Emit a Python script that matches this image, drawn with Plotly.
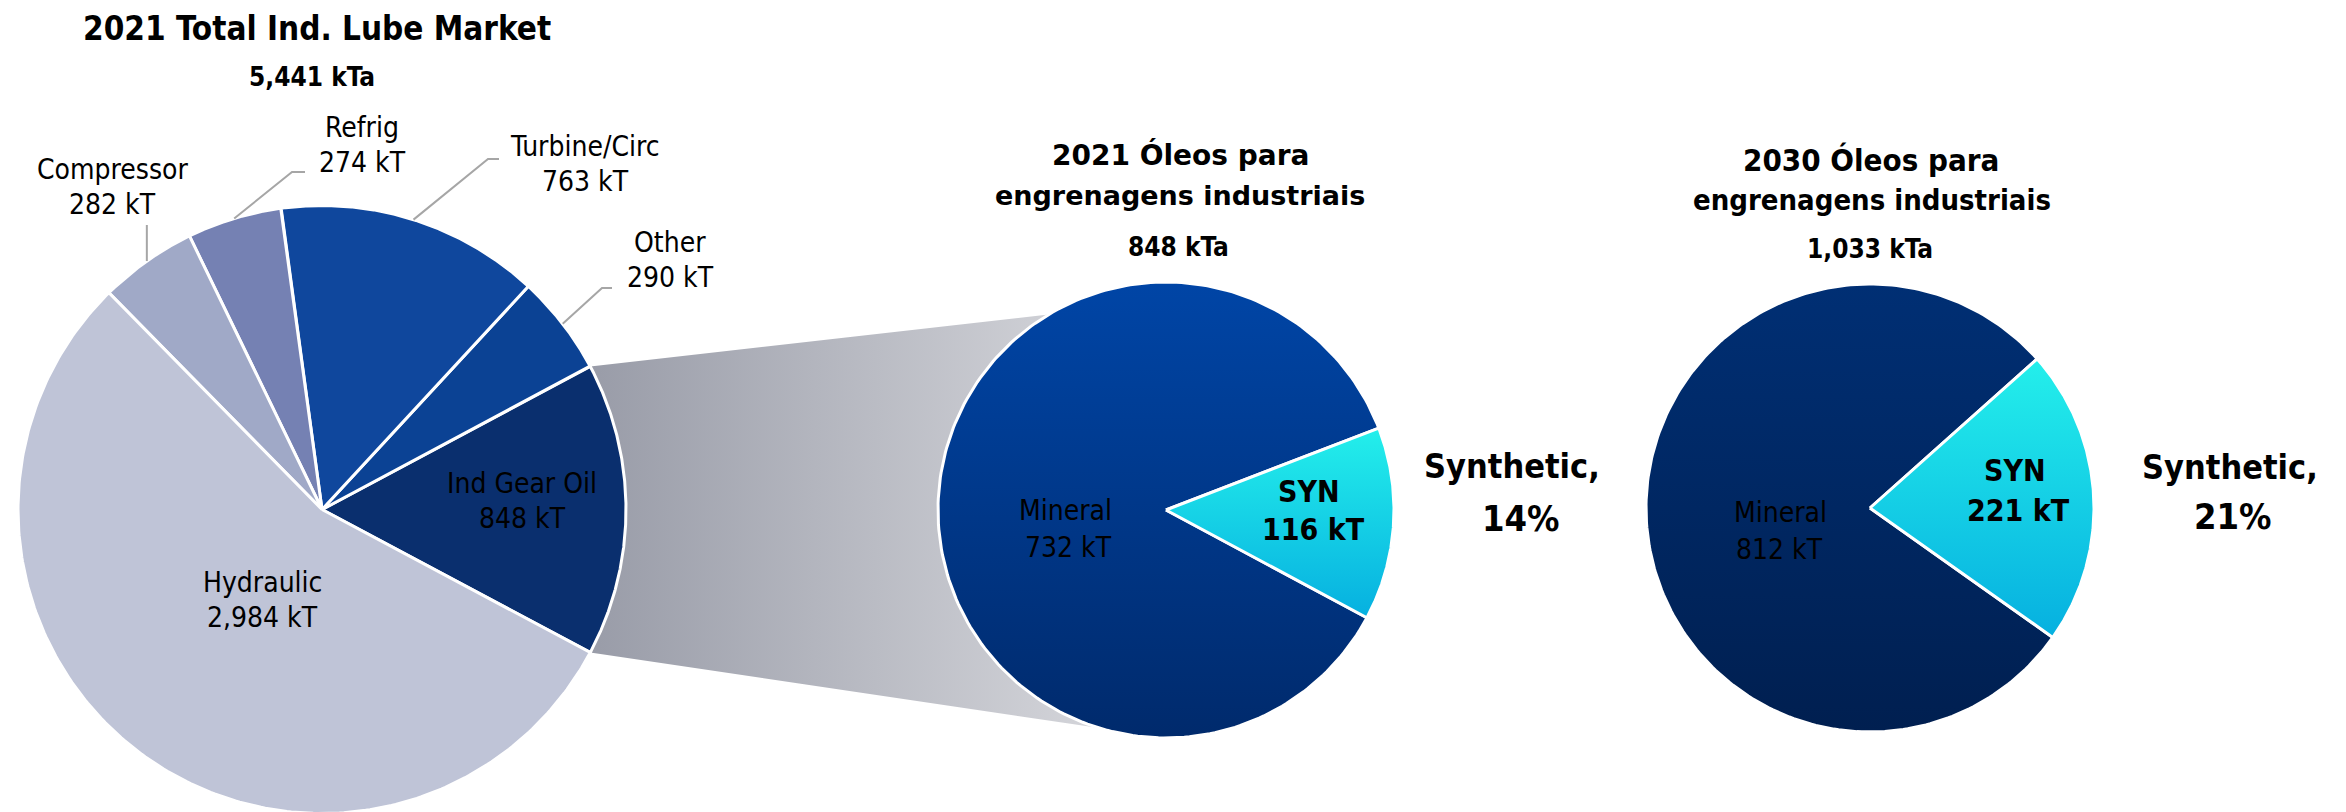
import numpy as np
import plotly.graph_objects as go

# ---------------- data ----------------
market_labels = ["Ind Gear Oil", "Other", "Turbine/Circ", "Refrig", "Compressor", "Hydraulic"]
market_values = [848, 290, 763, 274, 282, 2984]          # kT, 2021

gear_labels = ["SYN", "Mineral"]
gear_2021_values = [116, 732]                              # kT, 2021
gear_2030_values = [221, 812]                              # kT, 2030

# ---------------- styling ----------------
market_colors = ["#0A2F6E", "#0B4294", "#0F479D", "#7581B3", "#A0A9C7", "#BFC4D7"]
# vertical gradients: first stop is the bottom of the shape, last stop the top
syn_grad = [[0, "#06B0E0"], [1, "#24EFEB"]]
mineral_2021_grad = [[0, "#002A6C"], [1, "#0045A6"]]
mineral_2030_grad = [[0, "#001F50"], [1, "#002F74"]]
funnel_grad = [[0, "#999CA8"], [1, "#D4D5DA"]]

COND = "DejaVu Sans Condensed, DejaVu Sans, sans-serif"
WIDE = "DejaVu Sans, sans-serif"

W, H = 2346, 812
LEFT = dict(cx=322, cy=509.5, r=304)
MID = dict(cx=1166, cy=510, r=228)
RIGHT = dict(cx=1870, cy=508, r=224)


def arc(p, a0, a1, n=240):
    t = np.radians(np.linspace(a0, a1, n))
    return p["cx"] + p["r"] * np.cos(t), p["cy"] - p["r"] * np.sin(t)


def rim(p, a, k=1.0):
    t = np.radians(a)
    return p["cx"] + k * p["r"] * np.cos(t), p["cy"] - k * p["r"] * np.sin(t)


def slice_angles(values, start):
    total = float(sum(values))
    out, a = [], start
    for v in values:
        span = v / total * 360.0
        out.append((a, a + span))
        a += span
    return out


fig = go.Figure()


def add_wedge(p, a0, a1, color=None, grad=None):
    ax, ay = arc(p, a0, a1)
    x = np.concatenate([[p["cx"]], ax, [p["cx"]]])
    y = np.concatenate([[p["cy"]], ay, [p["cy"]]])
    kw = dict(x=x, y=y, mode="lines", fill="toself",
              line=dict(color="white", width=3), hoverinfo="skip", showlegend=False)
    if grad is not None:
        kw["fillgradient"] = dict(type="vertical", colorscale=grad)
    else:
        kw["fillcolor"] = color
    fig.add_trace(go.Scatter(**kw))


# --- left pie: Ind Gear Oil centred on the right-hand side ---
m_total = sum(market_values)
m_start = -market_values[0] / m_total * 360.0 / 2
m_angles = slice_angles(market_values, m_start)

# --- gear oil pies: SYN wedge on the right ---
g21_angles = slice_angles(gear_2021_values, -28.2)
g30_angles = slice_angles(gear_2030_values, -35.3)

# --- connector from the Ind Gear Oil slice to the 2021 pie ---
gear_a0, gear_a1 = m_angles[0]
lx, ly = arc(LEFT, gear_a0, gear_a1)
mx, my = arc(MID, 121, 253)
fig.add_trace(go.Scatter(
    x=np.concatenate([lx, mx]), y=np.concatenate([ly, my]),
    mode="lines", fill="toself", line=dict(width=0, color="rgba(0,0,0,0)"),
    fillgradient=dict(type="horizontal", colorscale=funnel_grad),
    hoverinfo="skip", showlegend=False))

for (a0, a1), c in zip(m_angles, market_colors):
    add_wedge(LEFT, a0, a1, color=c)

add_wedge(MID, *g21_angles[1], grad=mineral_2021_grad)
add_wedge(MID, *g21_angles[0], grad=syn_grad)
add_wedge(RIGHT, *g30_angles[1], grad=mineral_2030_grad)
add_wedge(RIGHT, *g30_angles[0], grad=syn_grad)

# --- leader lines for the small outer labels ---
leader_elbows = {
    "Compressor": [(None, 225)],
    "Refrig": [(292, 172), (305, 172)],
    "Turbine/Circ": [(488, 159), (499, 159)],
    "Other": [(602, 288), (612, 288)],
}
for name, pts in leader_elbows.items():
    i = market_labels.index(name)
    a = sum(m_angles[i]) / 2
    x0, y0 = rim(LEFT, a)
    xs, ys = [x0], [y0]
    for px, py in pts:
        xs.append(x0 if px is None else px)
        ys.append(py)
    fig.add_trace(go.Scatter(x=xs, y=ys, mode="lines",
                             line=dict(color="#A6A6A6", width=2),
                             hoverinfo="skip", showlegend=False))


def txt(x, y, s, size, family=COND, bold=False):
    fig.add_annotation(x=x, y=y, xref="x", yref="y", text=f"<b>{s}</b>" if bold else s,
                       showarrow=False, xanchor="center", yanchor="middle",
                       font=dict(family=family, size=size, color="black"))


def kt(v):
    return f"{v:,} kT"


mv = dict(zip(market_labels, market_values))

# titles
txt(317, 28.5, "2021 Total Ind. Lube Market", 33, bold=True)
txt(312, 77, f"{m_total:,} kTa", 26, bold=True)

txt(1180, 155, "2021 Óleos para", 28, family=WIDE, bold=True)
txt(1180, 195, "engrenagens industriais", 27, family=WIDE, bold=True)
txt(1178, 247, f"{sum(gear_2021_values):,} kTa", 26, bold=True)

txt(1871, 160, "2030 Óleos para", 31, bold=True)
txt(1872, 200, "engrenagens industriais", 29, bold=True)
txt(1870, 249, f"{sum(gear_2030_values):,} kTa", 26, bold=True)

# left pie labels
label_pos = {
    "Compressor": (112, 169.5, 204.5),
    "Refrig": (362, 127.5, 162.5),
    "Turbine/Circ": (585, 146.5, 181.5),
    "Other": (670, 242.5, 277.5),
    "Ind Gear Oil": (522, 483, 518),
    "Hydraulic": (262, 582, 617),
}
for name, (x, y1, y2) in label_pos.items():
    txt(x, y1, name, 28)
    txt(x, y2, kt(mv[name]), 28)

# 2021 gear pie labels
txt(1065, 510, gear_labels[1], 28)
txt(1068, 547.5, kt(gear_2021_values[1]), 28)
txt(1309, 491.5, gear_labels[0], 30, bold=True)
txt(1313, 529, kt(gear_2021_values[0]), 30, bold=True)
share21 = round(gear_2021_values[0] / sum(gear_2021_values) * 100)
txt(1512, 466, "Synthetic,", 34, bold=True)
txt(1521, 518.5, f"{share21}%", 36, bold=True)

# 2030 gear pie labels
txt(1780, 512, gear_labels[1], 28)
txt(1779, 549.5, kt(gear_2030_values[1]), 28)
txt(2015, 470.5, gear_labels[0], 30, bold=True)
txt(2018, 510, kt(gear_2030_values[0]), 30, bold=True)
share30 = round(gear_2030_values[0] / sum(gear_2030_values) * 100)
txt(2230, 466.5, "Synthetic,", 34, bold=True)
txt(2233, 516.5, f"{share30}%", 36, bold=True)

fig.update_layout(
    width=W, height=H, margin=dict(l=0, r=0, t=0, b=0),
    paper_bgcolor="white", plot_bgcolor="white", showlegend=False, hovermode=False,
    xaxis=dict(range=[0, W], visible=False, fixedrange=True),
    yaxis=dict(range=[H, 0], visible=False, fixedrange=True),
)
fig.write_html("out.html")
